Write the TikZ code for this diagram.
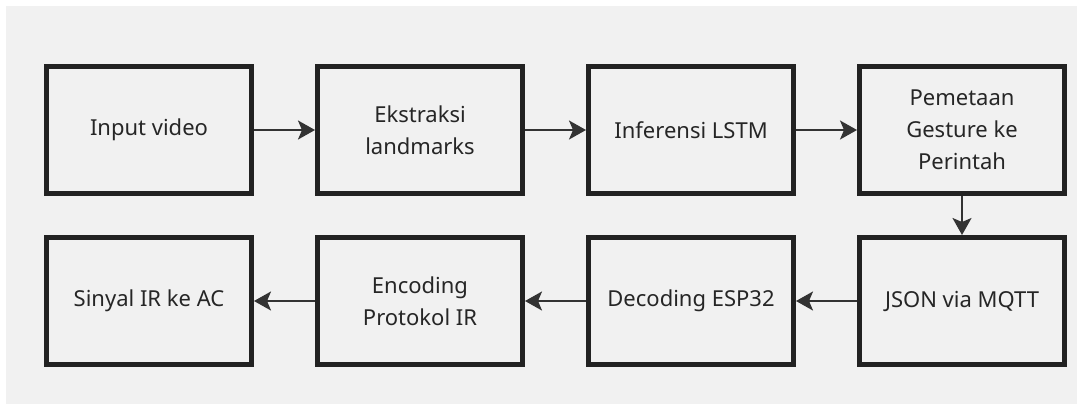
\documentclass[tikz,border=0pt]{standalone}
\usepackage{fontspec}
\setmainfont{Noto Sans}
\usetikzlibrary{arrows.meta}
\definecolor{panel}{HTML}{F1F1F1}
\definecolor{edge}{HTML}{222222}
\definecolor{link}{HTML}{333333}
\begin{document}
\begin{tikzpicture}[x=1pt,y=-1pt,
  stepbox/.style={draw=edge,fill=panel,line width=5pt,minimum width=205pt,minimum height=127pt,
    align=center,font=\fontsize{22}{32}\selectfont,text=black!85},
  flow/.style={draw=link,line width=2pt,-{Stealth[length=17pt,width=19pt,inset=4pt]}}]
  \useasboundingbox (0,0) rectangle (1083,410);
  \fill[white] (0,0) rectangle (1083,410);
  \fill[panel] (6,6) rectangle (1077,404);
  % top row
  \node[stepbox] (a) at (149,130) {Input video};
  \node[stepbox] (b) at (420,130) {Ekstraksi\\landmarks};
  \node[stepbox] (c) at (691,130) {Inferensi LSTM};
  \node[stepbox] (d) at (962,130) {Pemetaan\\Gesture ke\\Perintah};
  % bottom row
  \node[stepbox] (e) at (962,301) {JSON via MQTT};
  \node[stepbox] (f) at (691,301) {Decoding ESP32};
  \node[stepbox] (g) at (420,301) {Encoding\\Protokol IR};
  \node[stepbox] (h) at (149,301) {Sinyal IR ke AC};
  % connectors
  \draw[flow] (a) -- (b);
  \draw[flow] (b) -- (c);
  \draw[flow] (c) -- (d);
  \draw[flow] (d) -- (e);
  \draw[flow] (e) -- (f);
  \draw[flow] (f) -- (g);
  \draw[flow] (g) -- (h);
\end{tikzpicture}
\end{document}
